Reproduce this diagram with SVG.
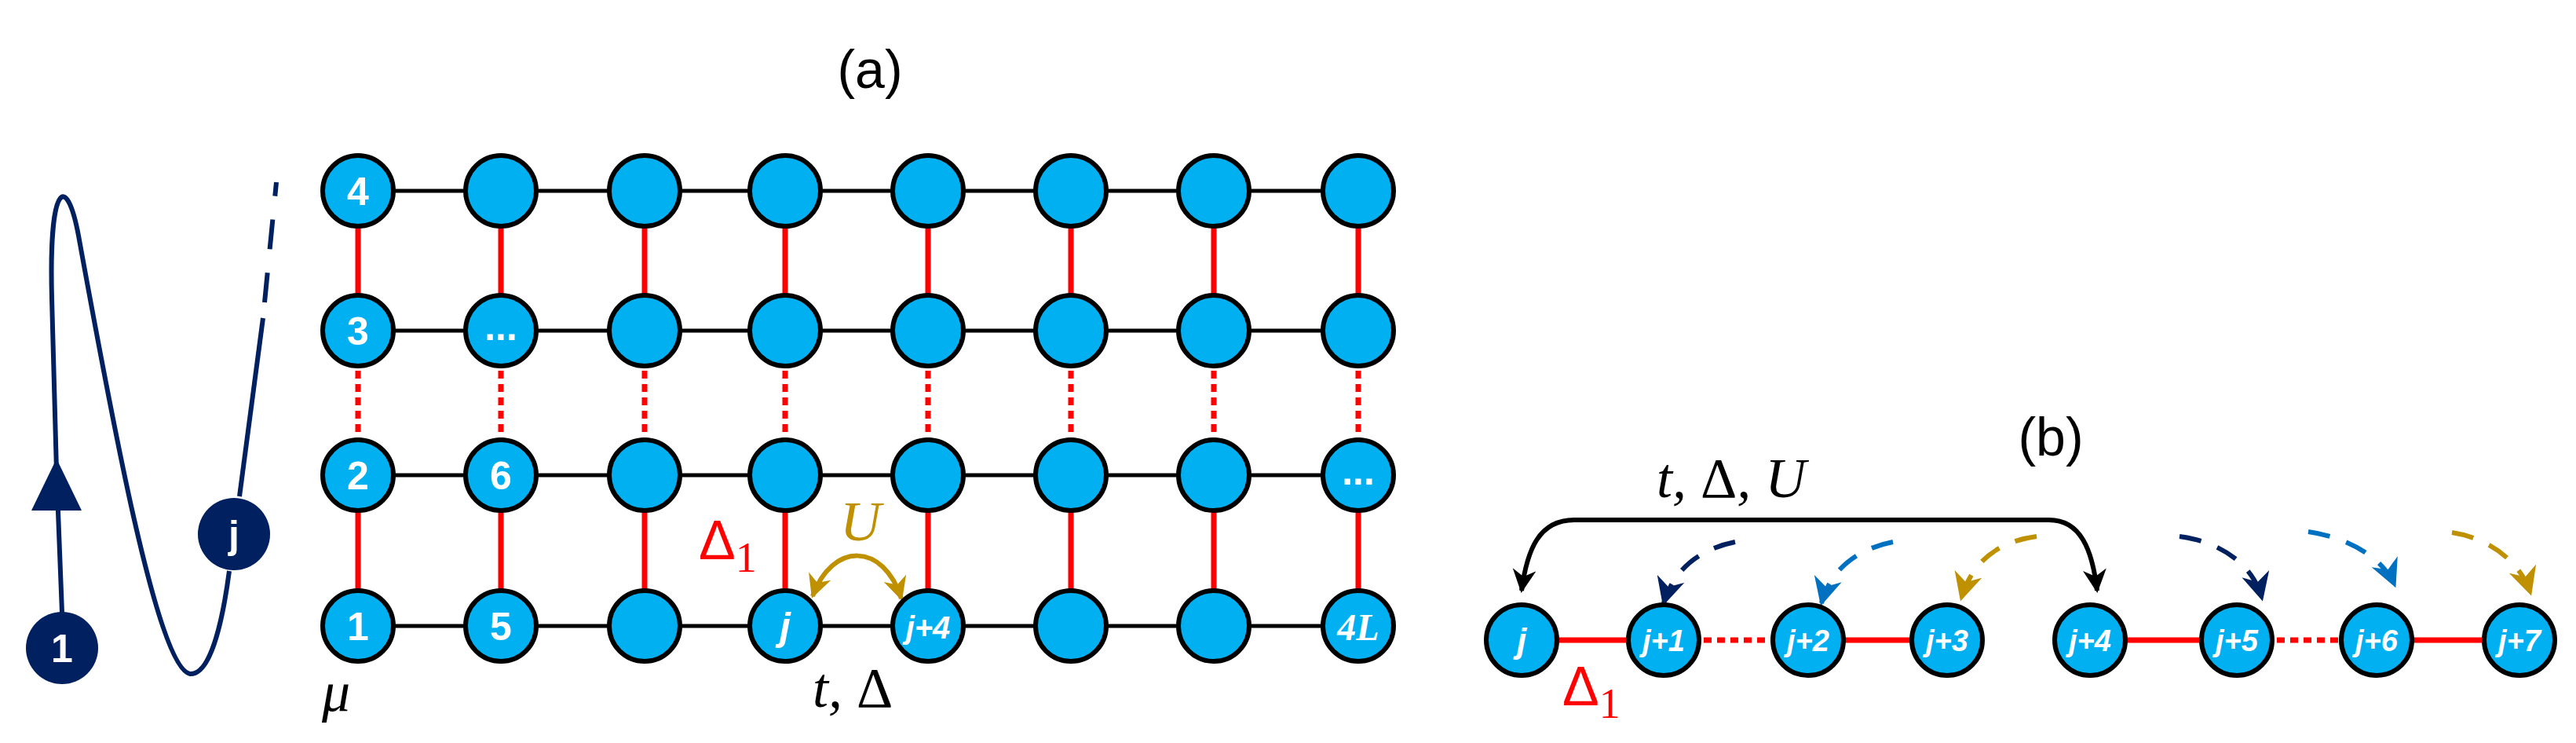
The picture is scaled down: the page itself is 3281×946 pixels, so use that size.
<svg xmlns="http://www.w3.org/2000/svg" width="3281" height="946" viewBox="0 0 3281 946">
<style>
.n{fill:#00B0F0;stroke:#000;stroke-width:6}
.lb{fill:#fff;font-family:"Liberation Sans",Arial,sans-serif;font-weight:bold;font-size:50px;text-anchor:middle}
.it{font-style:italic}
.h{stroke:#000;stroke-width:5;fill:none}
.rs{stroke:#f00;stroke-width:7;fill:none}
.rd{stroke:#f00;stroke-width:7;stroke-dasharray:10 7;fill:none}
.m{font-family:"Liberation Serif","DejaVu Serif",serif;font-style:italic;font-size:72px}
.nv{fill:#002060}
</style>
<defs>
<marker id="ak" viewBox="0 0 10 10" refX="9" refY="5" markerWidth="5" markerHeight="5" orient="auto-start-reverse" markerUnits="strokeWidth"><path d="M0,0L10,5L0,10L3,5z" fill="#000"/></marker>
<marker id="ag" viewBox="0 0 10 10" refX="9" refY="5" markerWidth="5" markerHeight="5" orient="auto-start-reverse" markerUnits="strokeWidth"><path d="M0,0L10,5L0,10L3,5z" fill="#BF9000"/></marker>
<marker id="an" viewBox="0 0 10 10" refX="9" refY="5" markerWidth="6" markerHeight="6" orient="auto" markerUnits="strokeWidth"><path d="M0,0L10,5L0,10L3,5z" fill="#002060"/></marker>
<marker id="ab" viewBox="0 0 10 10" refX="9" refY="5" markerWidth="6" markerHeight="6" orient="auto" markerUnits="strokeWidth"><path d="M0,0L10,5L0,10L3,5z" fill="#0070C0"/></marker>
<marker id="ay" viewBox="0 0 10 10" refX="9" refY="5" markerWidth="6" markerHeight="6" orient="auto" markerUnits="strokeWidth"><path d="M0,0L10,5L0,10L3,5z" fill="#BF9000"/></marker>
</defs>
<g id="connectors">
<path d="M79,780 L72,600 L66,380 C62,230 85,220 100,300 C140,520 200,850 242,858 C270,860 285,780 292,727" stroke="#002060" stroke-width="6" fill="none"/>
<path d="M305,632 L335,405" stroke="#002060" stroke-width="6" fill="none"/>
<path d="M337,385 L352,232" stroke="#002060" stroke-width="6" fill="none" stroke-dasharray="38 30"/>
<path d="M72,584 L40,650 L104,650 z" class="nv"/>
<path class="h" d="M456,243H1730M456,421H1730M456,605H1730M456,797H1730"/>
<path class="rs" d="M456,243V421M638,243V421M821,243V421M1000,243V421M1182,243V421M1364,243V421M1546,243V421M1730,243V421"/>
<path class="rd" d="M456,421V605M638,421V605M821,421V605M1000,421V605M1182,421V605M1364,421V605M1546,421V605M1730,421V605"/>
<path class="rs" d="M456,605V797M638,605V797M821,605V797M1000,605V797M1182,605V797M1364,605V797M1546,605V797M1730,605V797"/>
<path d="M1035,759 C1060,690 1125,690 1148,762" stroke="#BF9000" stroke-width="6" fill="none" marker-start="url(#ag)" marker-end="url(#ag)"/>
<path class="rs" d="M1938,815H2119M2303,815H2480M2662,815H2849M3027,815H3209"/>
<path class="rd" d="M2119,815H2303M2849,815H3027"/>
<path d="M1938,752 C1945,700 1960,662 2005,662 L2610,662 C2650,662 2665,700 2671,752" stroke="#000" stroke-width="6" fill="none" marker-start="url(#ak)" marker-end="url(#ak)"/>
<g fill="none" stroke-width="6" stroke-dasharray="28 22">
<path d="M2210,690 C2160,700 2130,730 2119,768" stroke="#002060" marker-end="url(#an)"/>
<path d="M2411,690 C2360,700 2330,730 2320,768" stroke="#0070C0" marker-end="url(#ab)"/>
<path d="M2594,683 C2540,690 2510,720 2498,762" stroke="#BF9000" marker-end="url(#ay)"/>
<path d="M2776,683 C2830,690 2870,720 2881,762" stroke="#002060" marker-end="url(#an)"/>
<path d="M2940,677 C2990,684 3035,710 3050,745" stroke="#0070C0" marker-end="url(#ab)"/>
<path d="M3123,678 C3170,685 3210,715 3223,755" stroke="#BF9000" marker-end="url(#ay)"/>
</g>
</g>
<g id="chain-nodes">
<g id="c1"><circle cx="79" cy="825" r="46" class="nv"/><text x="79" y="843" class="lb">1</text></g>
<g id="cj"><circle cx="298" cy="680" r="46" class="nv"/><text x="298" y="698" class="lb">j</text></g>
</g>
<g id="grid-nodes">
<circle class="n" cx="456" cy="243" r="45"/><circle class="n" cx="638" cy="243" r="45"/><circle class="n" cx="821" cy="243" r="45"/><circle class="n" cx="1000" cy="243" r="45"/><circle class="n" cx="1182" cy="243" r="45"/><circle class="n" cx="1364" cy="243" r="45"/><circle class="n" cx="1546" cy="243" r="45"/><circle class="n" cx="1730" cy="243" r="45"/>
<circle class="n" cx="456" cy="421" r="45"/><circle class="n" cx="638" cy="421" r="45"/><circle class="n" cx="821" cy="421" r="45"/><circle class="n" cx="1000" cy="421" r="45"/><circle class="n" cx="1182" cy="421" r="45"/><circle class="n" cx="1364" cy="421" r="45"/><circle class="n" cx="1546" cy="421" r="45"/><circle class="n" cx="1730" cy="421" r="45"/>
<circle class="n" cx="456" cy="605" r="45"/><circle class="n" cx="638" cy="605" r="45"/><circle class="n" cx="821" cy="605" r="45"/><circle class="n" cx="1000" cy="605" r="45"/><circle class="n" cx="1182" cy="605" r="45"/><circle class="n" cx="1364" cy="605" r="45"/><circle class="n" cx="1546" cy="605" r="45"/><circle class="n" cx="1730" cy="605" r="45"/>
<circle class="n" cx="456" cy="797" r="45"/><circle class="n" cx="638" cy="797" r="45"/><circle class="n" cx="821" cy="797" r="45"/><circle class="n" cx="1000" cy="797" r="45"/><circle class="n" cx="1182" cy="797" r="45"/><circle class="n" cx="1364" cy="797" r="45"/><circle class="n" cx="1546" cy="797" r="45"/><circle class="n" cx="1730" cy="797" r="45"/>
<text class="lb" x="456" y="261">4</text><text class="lb" x="456" y="439">3</text><text class="lb" x="456" y="623">2</text><text class="lb" x="456" y="815">1</text>
<text class="lb" x="638" y="433">...</text><text class="lb" x="638" y="623">6</text><text class="lb" x="638" y="815">5</text>
<text class="lb it" x="1000" y="815">j</text><text class="lb it" x="1182" y="813" style="font-size:40px">j+4</text>
<text class="lb" x="1730" y="617">...</text>
<text x="1730" y="815" style="fill:#fff;font-family:'Liberation Serif',serif;font-weight:bold;font-style:italic;font-size:48px;text-anchor:middle">4L</text>
</g>
<g id="b-nodes">
<circle class="n" cx="1938" cy="815" r="45"/><circle class="n" cx="2119" cy="815" r="45"/><circle class="n" cx="2303" cy="815" r="45"/><circle class="n" cx="2480" cy="815" r="45"/><circle class="n" cx="2662" cy="815" r="45"/><circle class="n" cx="2849" cy="815" r="45"/><circle class="n" cx="3027" cy="815" r="45"/><circle class="n" cx="3209" cy="815" r="45"/>
<text class="lb it" x="1938" y="831" style="font-size:44px">j</text>
<text class="lb it" x="2119" y="829" style="font-size:38px">j+1</text><text class="lb it" x="2303" y="829" style="font-size:38px">j+2</text><text class="lb it" x="2480" y="829" style="font-size:38px">j+3</text><text class="lb it" x="2662" y="829" style="font-size:38px">j+4</text><text class="lb it" x="2849" y="829" style="font-size:38px">j+5</text><text class="lb it" x="3027" y="829" style="font-size:38px">j+6</text><text class="lb it" x="3209" y="829" style="font-size:38px">j+7</text>
</g>
<g id="labels">
<text x="1108" y="112" style="font-family:'Liberation Sans',Arial,sans-serif;font-size:68px;text-anchor:middle">(a)</text>
<text x="2612" y="580" style="font-family:'Liberation Sans',Arial,sans-serif;font-size:68px;text-anchor:middle">(b)</text>
<text class="m" x="410" y="905">μ</text>
<text class="m" x="1035" y="900">t, <tspan font-style="normal">Δ</tspan></text>
<text class="m" x="1070" y="688" fill="#BF9000">U</text>
<text x="890" y="712" style="font-family:'Liberation Sans',Arial,sans-serif;font-size:70px;fill:#f00">Δ<tspan dy="16" style="font-family:'Liberation Serif',serif;font-size:54px">1</tspan></text>
<text class="m" x="2110" y="633">t, <tspan font-style="normal">Δ</tspan>, U</text>
<text x="1990" y="898" style="font-family:'Liberation Sans',Arial,sans-serif;font-size:70px;fill:#f00">Δ<tspan dy="16" style="font-family:'Liberation Serif',serif;font-size:54px">1</tspan></text>
</g>
</svg>
